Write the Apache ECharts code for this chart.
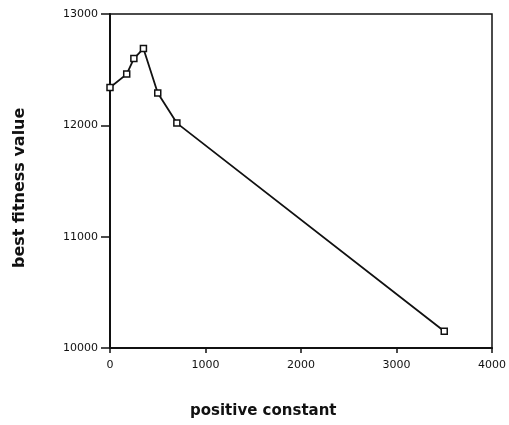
<!DOCTYPE html>
<html><head><meta charset="utf-8">
<script src="https://cdn.jsdelivr.net/npm/echarts@6/dist/echarts.min.js"></script>
<style>html,body{margin:0;padding:0;background:#fff}#c{width:509px;height:425px}</style>
</head><body><div id="c"></div>
<script>
const xValues = [0, 175, 250, 350, 500, 700, 3500];
const yValues = [12340, 12460, 12600, 12690, 12290, 12020, 10150];
const xTicks = [0, 1000, 2000, 3000, 4000];
const yTicks = [10000, 11000, 12000, 13000];

const chart = echarts.init(document.getElementById('c'));
const font = '"DejaVu Sans", sans-serif';
chart.setOption({
  animation: false,
  backgroundColor: '#fff',
  grid: {left: 110, right: 17, top: 14, bottom: 77, show: true, borderColor: '#111', borderWidth: 1.5, backgroundColor: 'transparent'},
  xAxis: {
    type: 'value', min: xTicks[0], max: xTicks[xTicks.length-1], interval: 1000,
    axisLine: {show: true, onZero: false, lineStyle: {color: '#111', width: 2}},
    axisTick: {show: true, length: 5, lineStyle: {color: '#111', width: 1.5}},
    axisLabel: {color: '#111', fontSize: 11, fontFamily: font, margin: 12, formatter: v => String(v)},
    splitLine: {show: false}
  },
  yAxis: {
    type: 'value', min: yTicks[0], max: yTicks[yTicks.length-1], interval: 1000,
    axisLine: {show: true, onZero: false, lineStyle: {color: '#111', width: 2}},
    axisTick: {show: true, length: 9, lineStyle: {color: '#111', width: 1.5}},
    axisLabel: {color: '#111', fontSize: 11, fontFamily: font, margin: 12, formatter: v => String(v)},
    splitLine: {show: false}
  },
  graphic: [
    {type: 'text', left: 190, top: 404, style: {text: 'positive constant', fill: '#111', font: 'bold 15px "DejaVu Sans", sans-serif'}},
    {type: 'text', x: 12, y: 268, rotation: Math.PI/2, style: {text: 'best fitness value', fill: '#111', font: 'bold 16px "DejaVu Sans", sans-serif', textVerticalAlign: 'top'}}
  ],
  series: [{
    type: 'line',
    data: xValues.map((x, i) => [x, yValues[i]]),
    symbol: 'rect', symbolSize: 6,
    itemStyle: {color: '#fff', borderColor: '#111', borderWidth: 1.5},
    lineStyle: {color: '#111', width: 1.8}
  }]
});
</script></body></html>
